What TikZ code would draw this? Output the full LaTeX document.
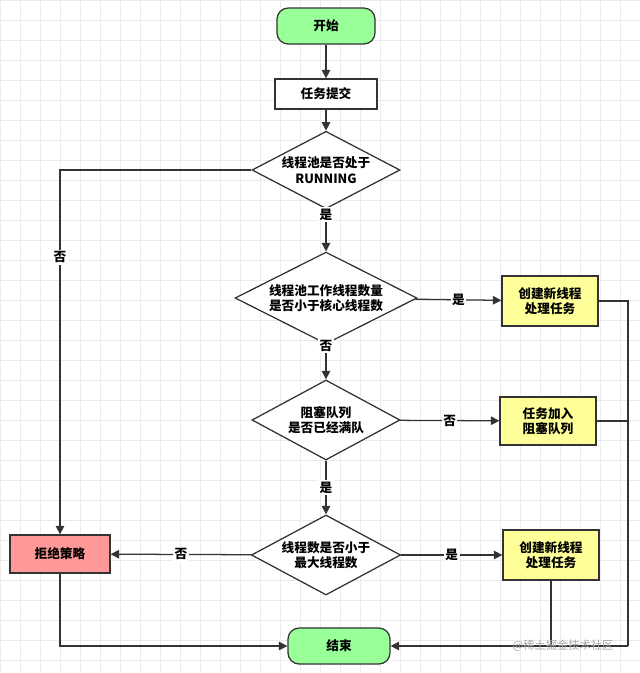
\documentclass[tikz,border=0pt]{standalone}
\usepackage{fontspec}
\setmainfont{Noto Sans CJK SC}
\usetikzlibrary{shapes.geometric,arrows.meta}
\definecolor{startgreen}{HTML}{99FF99}
\definecolor{boxyellow}{HTML}{FFFF99}
\definecolor{rejectred}{HTML}{FF9999}
\tikzset{
  base/.style={draw=black!80, line width=0.9pt, font=\fontsize{9}{11}\selectfont\bfseries, align=center, inner sep=1pt},
  term/.style={base, rounded corners=8pt, fill=startgreen, minimum width=2.45cm, minimum height=0.9cm},
  plain/.style={base, fill=white, minimum width=2.55cm, minimum height=0.75cm},
  task/.style={base, fill=boxyellow, minimum width=2.4cm, minimum height=1.25cm},
  check/.style={base, diamond, aspect=1.9, fill=white, minimum width=3.7cm, minimum height=2cm},
  flow/.style={draw=black!80, line width=0.9pt, -{Triangle[length=6pt,width=6pt]}},
  lbl/.style={fill=white, font=\fontsize{9}{11}\selectfont\bfseries, inner sep=1pt}
}
\begin{document}
\begin{tikzpicture}[x=0.025cm,y=-0.025cm]
  \useasboundingbox (0,0) rectangle (640,673);
  \fill[white] (0,0) rectangle (640,673);
  \draw[black!8, line width=0.3pt, step=0.5cm] (0,0) grid (640,673);

  \node[term] (start) at (326,26) {开始};
  \node[plain] (submit) at (326,94) {任务提交};
  \node[check, minimum width=3.7cm, minimum height=1.9cm] (running) at (326,170) {线程池是否处于\\RUNNING};
  \node[check, minimum width=4.55cm, minimum height=2.15cm] (core) at (326,298) {线程池工作线程数量\\是否小于核心线程数};
  \node[check] (queue) at (326,420) {阻塞队列\\是否已经满队};
  \node[check] (max) at (326,555) {线程数是否小于\\最大线程数};
  \node[task] (newcore) at (550,301) {创建新线程\\处理任务};
  \node[task, minimum height=1.2cm] (addqueue) at (548,421) {任务加入\\阻塞队列};
  \node[task] (newmax) at (551,555) {创建新线程\\处理任务};
  \node[base, fill=rejectred, minimum width=2.5cm, minimum height=0.95cm] (reject) at (60,554) {拒绝策略};
  \node[term, minimum width=2.55cm] (end) at (339,646) {结束};

  \draw[flow] (start) -- (submit);
  \draw[flow] (submit) -- (running);
  \draw[flow] (running.west) -| node[lbl, pos=0.62] {否} (reject.north);
  \draw[flow] (running) -- node[lbl, pos=0.12] {是} (core);
  \draw[flow] (core) -- node[lbl, pos=0.5] {是} (newcore);
  \draw[flow] (core) -- node[lbl, pos=0.05] {否} (queue);
  \draw[flow] (queue) -- node[lbl, pos=0.5] {否} (addqueue);
  \draw[flow] (queue) -- node[lbl, pos=0.5] {是} (max);
  \draw[flow] (max) -- node[lbl, pos=0.5] {否} (reject);
  \draw[flow] (max) -- node[lbl, pos=0.5] {是} (newmax);
  \draw[flow] (reject.south) |- (end.west);
  \coordinate (rightrail) at (628,646);
  \draw[draw=black!80, line width=0.9pt] (newcore.east) -| (rightrail);
  \draw[draw=black!80, line width=0.9pt] (addqueue.east) -- (addqueue.east -| rightrail);
  \draw[draw=black!80, line width=0.9pt] (newmax.south) -- (newmax.south |- end);
  \draw[flow] (rightrail) -- (end.east);

  \node[text=black!35, font=\fontsize{8}{10}\selectfont] (mark) at (563,646) {@稀土掘金技术社区};
\end{tikzpicture}
\end{document}
